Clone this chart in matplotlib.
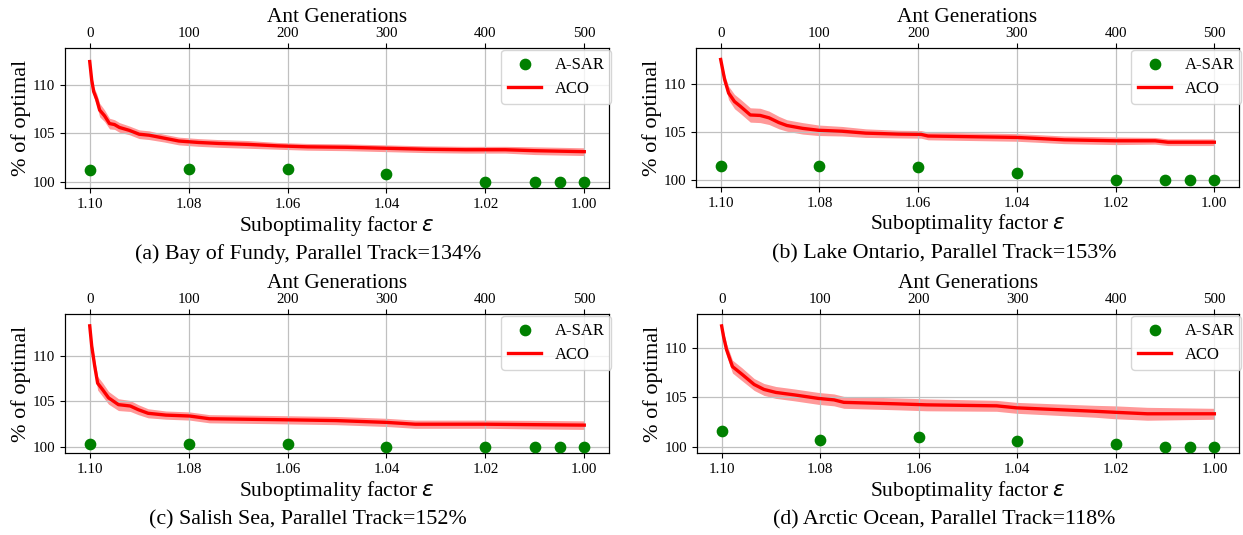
import numpy as np
import matplotlib.pyplot as plt

plt.rcParams['font.family'] = ['Liberation Serif', 'DejaVu Sans']
plt.rcParams['mathtext.fontset'] = 'dejavusans'

# A-SAR runs, one per suboptimality factor
eps_values = [1.10, 1.08, 1.06, 1.04, 1.02, 1.01, 1.005, 1.00]

asar_fundy = [101.24, 101.31, 101.31, 100.79, 100.0, 100.0, 100.0, 100.0]
asar_ontario = [101.43, 101.43, 101.36, 100.77, 100.0, 100.0, 100.0, 100.0]
asar_salish = [100.37, 100.37, 100.37, 100.0, 100.0, 100.0, 100.0, 100.0]
asar_arctic = [101.57, 100.70, 101.04, 100.64, 100.30, 100.0, 100.0, 100.0]

# ACO mean and spread over ant generations
gen_fundy = [0, 2, 4, 7, 10, 15, 20, 25, 30, 40, 50, 60, 75, 90, 110, 130, 160, 190, 220, 260, 300, 340, 380, 420, 450, 500]
aco_fundy = [112.4, 110.5, 109.3, 108.5, 107.4, 106.8, 106.0, 105.9, 105.6, 105.3, 104.9, 104.8, 104.5, 104.2,
             104.05, 103.95, 103.85, 103.7, 103.6, 103.55, 103.45, 103.35, 103.3, 103.3, 103.2, 103.1]
spread_fundy = [0.1, 0.4, 0.5, 0.6, 0.7, 0.6, 0.55, 0.5, 0.5, 0.45, 0.45, 0.45, 0.4, 0.4,
                0.4, 0.4, 0.4, 0.35, 0.35, 0.35, 0.35, 0.35, 0.35, 0.35, 0.4, 0.4]

gen_ontario = [0, 4, 8, 14, 20, 30, 40, 49, 59, 67, 83, 99, 123, 147, 180, 203, 210, 240, 300, 320, 348, 400, 440, 453, 500]
aco_ontario = [112.6, 110.5, 109.1, 108.2, 107.7, 106.8, 106.75, 106.5, 106.0, 105.7, 105.4, 105.2, 105.1, 104.9,
               104.8, 104.77, 104.6, 104.55, 104.45, 104.35, 104.2, 104.1, 104.1, 103.95, 103.95]
spread_ontario = [0.1, 0.5, 0.7, 0.75, 0.75, 0.75, 0.75, 0.7, 0.65, 0.6, 0.6, 0.55, 0.5, 0.45,
                  0.4, 0.4, 0.4, 0.4, 0.4, 0.4, 0.4, 0.4, 0.35, 0.35, 0.35]

gen_salish = [0, 2, 5, 8, 13, 19, 29, 41, 49, 59, 77, 101, 121, 189, 249, 300, 329, 400, 449, 500]
aco_salish = [113.3, 111.1, 108.9, 107.0, 106.3, 105.4, 104.65, 104.5, 104.1, 103.7, 103.5, 103.4, 103.1,
              103.0, 102.9, 102.7, 102.5, 102.5, 102.45, 102.4]
spread_salish = [0.1, 0.5, 0.7, 0.75, 0.75, 0.7, 0.65, 0.6, 0.55, 0.5, 0.45, 0.45, 0.45,
                 0.45, 0.45, 0.45, 0.45, 0.45, 0.47, 0.47]

gen_arctic = [0, 2, 5, 11, 21, 33, 43, 55, 74, 98, 114, 124, 178, 208, 279, 299, 379, 399, 432, 500]
aco_arctic = [112.2, 111.1, 109.8, 108.1, 107.3, 106.3, 105.8, 105.5, 105.25, 104.9, 104.75, 104.5, 104.35,
              104.25, 104.15, 103.95, 103.6, 103.5, 103.35, 103.35]
spread_arctic = [0.1, 0.5, 0.6, 0.65, 0.65, 0.6, 0.6, 0.6, 0.6, 0.6, 0.6, 0.6, 0.6,
                 0.6, 0.55, 0.55, 0.6, 0.65, 0.65, 0.55]

captions = ['(a) Bay of Fundy, Parallel Track=134%',
            '(b) Lake Ontario, Parallel Track=153%',
            '(c) Salish Sea, Parallel Track=152%',
            '(d) Arctic Ocean, Parallel Track=118%']

panels = [
    (gen_fundy, aco_fundy, spread_fundy, asar_fundy, (99.35, 113.8)),
    (gen_ontario, aco_ontario, spread_ontario, asar_ontario, (99.27, 113.8)),
    (gen_salish, aco_salish, spread_salish, asar_salish, (99.34, 114.6)),
    (gen_arctic, aco_arctic, spread_arctic, asar_arctic, (99.4, 113.4)),
]

W, H = 1243, 535
fig = plt.figure(figsize=(W / 100, H / 100), dpi=100)

# axes boxes in pixels: left, top, right, bottom
boxes = [(65, 48, 609, 188), (696, 48, 1239, 187), (65, 314, 609, 453), (697, 314, 1239, 453)]
caption_pos = [(308, 254), (944, 254), (308, 520), (944, 520)]

for (gens, mean, spread, asar, ylim), box, cap, cpos in zip(panels, boxes, captions, caption_pos):
    l, t, r, b = box
    ax = fig.add_axes([l / W, 1 - b / H, (r - l) / W, (b - t) / H])
    ax2 = ax.twiny()
    gens = np.array(gens)
    mean = np.array(mean)
    spread = np.array(spread)

    # ACO on the generations axis (top)
    ax.fill_between(gens, mean - spread, mean + spread, color='red', alpha=0.4, linewidth=0)
    line, = ax.plot(gens, mean, color='red', linewidth=2.4, label='ACO')
    ax.set_xlim(-25, 525)
    ax.set_ylim(*ylim)
    ax.set_xticks([0, 100, 200, 300, 400, 500])
    ax.set_yticks([100, 105, 110])
    ax.xaxis.tick_top()
    ax.xaxis.set_label_position('top')
    ax.set_xlabel('Ant Generations', fontsize=15.3, labelpad=3)
    ax.set_ylabel('% of optimal', fontsize=16, labelpad=1.5)
    ax.tick_params(labelsize=10.8)
    ax.tick_params(axis='x', pad=2.5)
    ax.grid(True, color='#c0c0c0', linewidth=0.9)

    # A-SAR on the suboptimality axis (bottom)
    pts = ax2.scatter(eps_values, asar, s=55, color='green', zorder=3, label='A-SAR')
    ax2.set_xlim(1.105, 0.995)
    ax2.set_xticks([1.10, 1.08, 1.06, 1.04, 1.02, 1.00])
    ax2.set_xticklabels(['1.10', '1.08', '1.06', '1.04', '1.02', '1.00'])
    ax2.xaxis.tick_bottom()
    ax2.xaxis.set_label_position('bottom')
    ax2.set_xlabel(r'Suboptimality factor $\epsilon$', fontsize=15.5, labelpad=2)
    ax2.tick_params(labelsize=10.8)

    ax2.legend([pts, line], ['A-SAR', 'ACO'], loc='upper right', fontsize=12,
               bbox_to_anchor=(1.004, 0.985), borderaxespad=0)

    fig.text(cpos[0] / W, 1 - cpos[1] / H, cap, fontsize=15.8, ha='center', va='center')

fig.savefig('out.png', dpi=100)
